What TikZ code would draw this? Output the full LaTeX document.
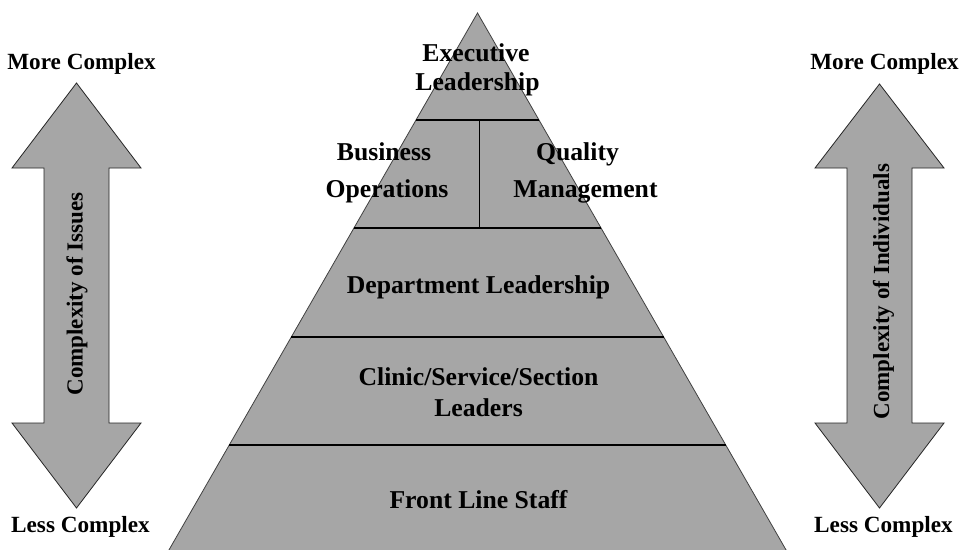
\documentclass[tikz,border=0pt]{standalone}
\usepackage{fontspec}
\setmainfont{Liberation Serif}
\usetikzlibrary{calc}
\definecolor{tiergray}{HTML}{A6A6A6}
\begin{document}
\begin{tikzpicture}[x=1pt,y=-1pt,
  tier/.style={draw=black!75, line width=0.8pt, fill=tiergray},
  divider/.style={draw=black, line width=1.6pt},
  bigarrow/.style={draw=black!85, line width=0.8pt, fill=tiergray, line join=miter},
  tiertext/.style={font=\fontsize{25.7}{30}\selectfont\bfseries, inner sep=0pt, anchor=base},
  endtext/.style={font=\fontsize{23.2}{27}\selectfont\bfseries, inner sep=0pt, anchor=base},
  sidetext/.style={font=\fontsize{23}{27}\selectfont\bfseries, inner sep=0pt, anchor=base, rotate=90}]
\clip (0,0) rectangle (961,549);
\fill[white] (0,0) rectangle (961,549);

% pyramid outline
\coordinate (apex) at (477.5,13);
\coordinate (bl) at (167.2,553);
\coordinate (br) at (787.8,553);
\draw[tier] (apex) -- (br) -- (bl) -- cycle;

% tier boundaries
\foreach \yy [count=\i] in {120,228,337,445} {
  \coordinate (l\i) at ($(apex)!{(\yy-13)/540}!(bl)$);
  \coordinate (r\i) at ($(apex)!{(\yy-13)/540}!(br)$);
  \draw[divider] (l\i) -- (r\i);
}
\coordinate (split) at ($(l1)!0.5!(r1)+(1.5,0)$);
\coordinate (splitb) at ($(l2)!0.5!(r2)+(1.5,0)$);
\draw[black, line width=1pt] (split) -- (splitb);

% tier labels
\node[tiertext] (exec1) at (476,61) {Executive};
\node[tiertext] (exec2) at (477.5,90.5) {Leadership};
\node[tiertext] (bus1) at (384,160) {Business};
\node[tiertext] (bus2) at (387,197) {Operations};
\node[tiertext] (qual1) at (577.5,160) {Quality};
\node[tiertext] (qual2) at (585.5,197) {Management};
\node[tiertext] (dept) at (478.5,293) {Department Leadership};
\node[tiertext] (clin1) at (478.5,385) {Clinic/Service/Section};
\node[tiertext] (clin2) at (478.5,416) {Leaders};
\node[tiertext] (front) at (478.5,508) {Front Line Staff};

% left double arrow
\draw[bigarrow] (76.5,83) -- (141,168) -- (109,168) -- (109,423) -- (141,423)
  -- (76.5,508) -- (12,423) -- (44,423) -- (44,168) -- (12,168) -- cycle;
\node[sidetext] (issues) at (82.5,294) {Complexity of Issues};
\node[endtext] (lmore) at (81.5,69) {More Complex};
\node[endtext] (lless) at (80.5,532) {Less Complex};

% right double arrow
\draw[bigarrow] (879.5,84) -- (944,168) -- (912,168) -- (912,423) -- (944,423)
  -- (879.5,508) -- (815,423) -- (847,423) -- (847,168) -- (815,168) -- cycle;
\node[sidetext] (indiv) at (889,291.5) {Complexity of Individuals};
\node[endtext] (rmore) at (884.5,69) {More Complex};
\node[endtext] (rless) at (883.5,532) {Less Complex};
\end{tikzpicture}
\end{document}
